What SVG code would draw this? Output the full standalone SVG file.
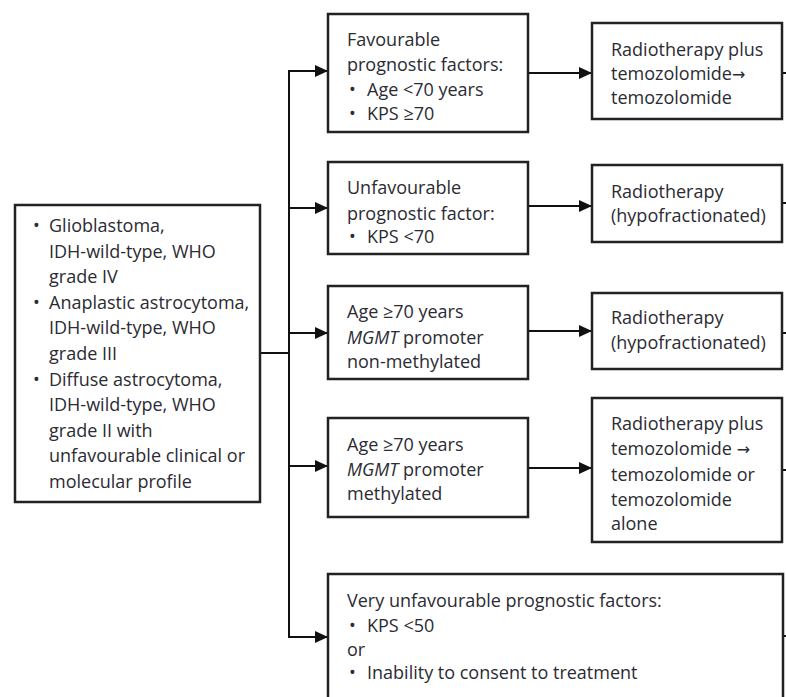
<svg xmlns="http://www.w3.org/2000/svg" width="786" height="697" viewBox="0 0 786 697">
<defs>
<marker id="ah" markerUnits="userSpaceOnUse" markerWidth="14" markerHeight="14" refX="13" refY="7" orient="auto">
<path d="M0,1 L13,7 L0,13 Z" fill="#111"/>
</marker>
<style>
.box{fill:#fff;stroke:#222;stroke-width:2.5}
.t{font-family:"Open Sans","Liberation Sans",sans-serif;font-size:18px;fill:#2b2b33}
.ar{font-family:"DejaVu Sans",sans-serif;font-size:16px}
.c{fill:none;stroke:#111;stroke-width:2}
.a{fill:none;stroke:#111;stroke-width:2;marker-end:url(#ah)}
</style>
</defs>
<rect width="786" height="697" fill="#fff"/>
<g id="connectors">
<line class="c" x1="260" y1="353" x2="289" y2="353"/>
<line class="c" x1="289" y1="70" x2="289" y2="638"/>
<line class="a" x1="288" y1="71" x2="328" y2="71"/>
<line class="a" x1="288" y1="208" x2="328" y2="208"/>
<line class="a" x1="288" y1="333" x2="328" y2="333"/>
<line class="a" x1="288" y1="466" x2="328" y2="466"/>
<line class="a" x1="288" y1="637" x2="328" y2="637"/>
<line class="a" x1="528" y1="73" x2="592" y2="73"/>
<line class="a" x1="528" y1="206" x2="592" y2="206"/>
<line class="a" x1="528" y1="331" x2="592" y2="331"/>
<line class="a" x1="528" y1="468" x2="592" y2="468"/>
<line class="c" x1="782" y1="73" x2="786" y2="73"/>
<line class="c" x1="782" y1="203" x2="786" y2="203"/>
<line class="c" x1="782" y1="333" x2="786" y2="333"/>
<line class="c" x1="782" y1="470" x2="786" y2="470"/>
<line class="c" x1="783" y1="636" x2="786" y2="636"/>
</g>
<g id="start">
<rect class="box" x="15" y="205" width="245" height="297"/>
<text class="t">
<tspan x="33" y="232">•</tspan><tspan x="49" y="232">Glioblastoma,</tspan>
<tspan x="49" y="258">IDH-wild-type, WHO</tspan>
<tspan x="49" y="283">grade IV</tspan>
<tspan x="33" y="309">•</tspan><tspan x="49" y="309">Anaplastic astrocytoma,</tspan>
<tspan x="49" y="334">IDH-wild-type, WHO</tspan>
<tspan x="49" y="360">grade III</tspan>
<tspan x="33" y="386">•</tspan><tspan x="49" y="386">Diffuse astrocytoma,</tspan>
<tspan x="49" y="411">IDH-wild-type, WHO</tspan>
<tspan x="49" y="437">grade II with</tspan>
<tspan x="49" y="462">unfavourable clinical or</tspan>
<tspan x="49" y="488">molecular profile</tspan>
</text>
</g>
<g id="favourable">
<rect class="box" x="328" y="14" width="200" height="118"/>
<text class="t">
<tspan x="347" y="46">Favourable</tspan>
<tspan x="347" y="71">prognostic factors:</tspan>
<tspan x="349" y="96">•</tspan><tspan x="367" y="96">Age &lt;70 years</tspan>
<tspan x="349" y="120">•</tspan><tspan x="367" y="120">KPS ≥70</tspan>
</text>
</g>
<g id="unfavourable">
<rect class="box" x="328" y="162" width="200" height="92"/>
<text class="t">
<tspan x="347" y="194">Unfavourable</tspan>
<tspan x="347" y="220">prognostic factor:</tspan>
<tspan x="349" y="243">•</tspan><tspan x="367" y="243">KPS &lt;70</tspan>
</text>
</g>
<g id="nonmethylated">
<rect class="box" x="328" y="286" width="200" height="93"/>
<text class="t">
<tspan x="347" y="318">Age ≥70 years</tspan>
<tspan x="347" y="344"><tspan font-style="italic">MGMT</tspan> promoter</tspan>
<tspan x="347" y="368">non-methylated</tspan>
</text>
</g>
<g id="methylated">
<rect class="box" x="328" y="418" width="200" height="99"/>
<text class="t">
<tspan x="347" y="451">Age ≥70 years</tspan>
<tspan x="347" y="476"><tspan font-style="italic">MGMT</tspan> promoter</tspan>
<tspan x="347" y="500">methylated</tspan>
</text>
</g>
<g id="very-unfavourable">
<rect class="box" x="328" y="574" width="455" height="130"/>
<text class="t">
<tspan x="347" y="607">Very unfavourable prognostic factors:</tspan>
<tspan x="349" y="632">•</tspan><tspan x="367" y="632">KPS &lt;50</tspan>
<tspan x="347" y="656">or</tspan>
<tspan x="349" y="679">•</tspan><tspan x="367" y="679">Inability to consent to treatment</tspan>
</text>
</g>
<g id="rt-tmz">
<rect class="box" x="592" y="23" width="190" height="96"/>
<text class="t">
<tspan x="611" y="56">Radiotherapy plus</tspan>
<tspan x="611" y="80">temozolomide<tspan class="ar">→</tspan></tspan>
<tspan x="611" y="104">temozolomide</tspan>
</text>
</g>
<g id="rt-hypo-1">
<rect class="box" x="592" y="165" width="190" height="77"/>
<text class="t">
<tspan x="611" y="198">Radiotherapy</tspan>
<tspan x="611" y="222">(hypofractionated)</tspan>
</text>
</g>
<g id="rt-hypo-2">
<rect class="box" x="592" y="293" width="190" height="76"/>
<text class="t">
<tspan x="611" y="324">Radiotherapy</tspan>
<tspan x="611" y="349">(hypofractionated)</tspan>
</text>
</g>
<g id="rt-tmz-or-tmz">
<rect class="box" x="592" y="398" width="190" height="144"/>
<text class="t">
<tspan x="611" y="430">Radiotherapy plus</tspan>
<tspan x="611" y="455">temozolomide <tspan class="ar">→</tspan></tspan>
<tspan x="611" y="481">temozolomide or</tspan>
<tspan x="611" y="506">temozolomide</tspan>
<tspan x="611" y="530">alone</tspan>
</text>
</g>
</svg>
